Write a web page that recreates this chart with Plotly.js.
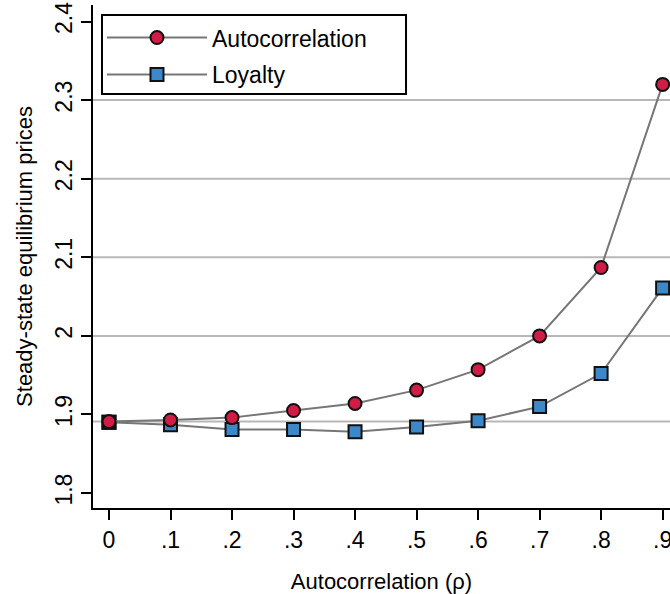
<!DOCTYPE html>
<html>
<head>
<meta charset="utf-8">
<script src="https://cdn.plot.ly/plotly-3.0.1.min.js"></script>
<style>
  html, body { margin: 0; padding: 0; background: #fff; overflow: hidden; }
  #plot-container { width: 670px; height: 594px; }
</style>
</head>
<body>
<div id="plot-container"></div>
<script>
// Autocorrelation values on the x axis
const rho = [0, 0.1, 0.2, 0.3, 0.4, 0.5, 0.6, 0.7, 0.8, 0.9];
const rhoLabels = ['0', '.1', '.2', '.3', '.4', '.5', '.6', '.7', '.8', '.9'];

// Steady-state equilibrium prices
const autocorrPrices = [1.891, 1.893, 1.896, 1.905, 1.914, 1.931, 1.957, 2.000, 2.087, 2.320];
const loyaltyPrices = [1.890, 1.887, 1.881, 1.881, 1.878, 1.884, 1.892, 1.910, 1.952, 2.061];

const yTicks = [1.8, 1.9, 2.0, 2.1, 2.2, 2.3, 2.4];
const yTickLabels = ['1.8', '1.9', '2', '2.1', '2.2', '2.3', '2.4'];
const gridVals = [2.0, 2.1, 2.2, 2.3];
const baseline = 1.891;

const font = "'Liberation Sans', Arial, sans-serif";
const lineGray = '#767676';

const plotContainer = document.getElementById('plot-container');

const traces = [
    {
        x: rho,
        y: loyaltyPrices,
        name: 'Loyalty',
        legendgroup: 'b',
        mode: 'lines+markers',
        type: 'scatter',
        cliponaxis: false,
        legendrank: 2,
        line: { color: lineGray, width: 2 },
        marker: {
            symbol: 'square',
            size: 13,
            color: '#3d88c8',
            line: { color: '#111111', width: 2 }
        }
    },
    // the first loyalty point shows up as a black square in the original
    {
        x: rho.slice(0, 1),
        y: loyaltyPrices.slice(0, 1),
        mode: 'markers',
        type: 'scatter',
        showlegend: false,
        cliponaxis: false,
        marker: {
            symbol: 'square',
            size: 13,
            color: '#111111',
            line: { color: '#111111', width: 2 }
        }
    },
    {
        x: rho,
        y: autocorrPrices,
        name: 'Autocorrelation',
        legendgroup: 'a',
        mode: 'lines+markers',
        type: 'scatter',
        cliponaxis: false,
        legendrank: 1,
        line: { color: lineGray, width: 2 },
        marker: {
            symbol: 'circle',
            size: 13,
            color: '#d11d45',
            line: { color: '#111111', width: 2 }
        }
    }
];

// horizontal grid lines (none at 1.8, 1.9, 2.4) plus the baseline level
const shapes = gridVals.concat([baseline]).map(v => ({
    type: 'line',
    xref: 'paper', x0: 0, x1: 1,
    yref: 'y', y0: v, y1: v,
    line: { color: '#b8b8b8', width: 2 },
    layer: 'below'
}));

// legend frame drawn as a shape so it can be as wide as the original
shapes.push({
    type: 'rect',
    xref: 'paper', yref: 'paper',
    x0: 0.0156, x1: 0.5425,
    y0: 0.823, y1: 0.980,
    line: { color: '#000000', width: 2 },
    fillcolor: '#ffffff',
    layer: 'above'
});

const layout = {
    width: 670,
    height: 594,
    margin: { l: 93, r: 0, t: 5, b: 86 },
    paper_bgcolor: '#ffffff',
    plot_bgcolor: '#ffffff',
    font: { family: font, color: '#000000', size: 20 },
    showlegend: true,
    legend: {
        x: 0.0156, y: 0.978,
        xanchor: 'left', yanchor: 'top',
        borderwidth: 0,
        bgcolor: 'rgba(0,0,0,0)',
        font: { family: font, size: 23 },
        itemwidth: 100,
        traceorder: 'grouped',
        tracegroupgap: 4
    },
    xaxis: {
        range: [-0.026, 0.912],
        tickvals: rho,
        ticktext: rhoLabels,
        ticklabeloverflow: 'allow',
        showgrid: false,
        zeroline: false,
        showline: true,
        linecolor: '#000000',
        linewidth: 2,
        ticks: 'outside',
        ticklen: 10,
        tickwidth: 2,
        tickcolor: '#000000',
        tickfont: { family: font, size: 23 },
        title: {
            text: 'Autocorrelation (ρ)',
            font: { family: font, size: 22 },
            standoff: 26
        }
    },
    yaxis: {
        range: [1.781, 2.421],
        tickvals: yTicks,
        ticktext: yTickLabels,
        tickangle: -90,
        showgrid: false,
        zeroline: false,
        showline: true,
        linecolor: '#000000',
        linewidth: 2,
        ticks: 'outside',
        ticklen: 10,
        tickwidth: 2,
        tickcolor: '#000000',
        tickfont: { family: font, size: 23 },
        title: {
            text: 'Steady-state equilibrium prices',
            font: { family: font, size: 22 },
            standoff: 12
        }
    },
    shapes: shapes
};

Plotly.newPlot(plotContainer, traces, layout, { displayModeBar: false, staticPlot: true });
</script>
</body>
</html>
